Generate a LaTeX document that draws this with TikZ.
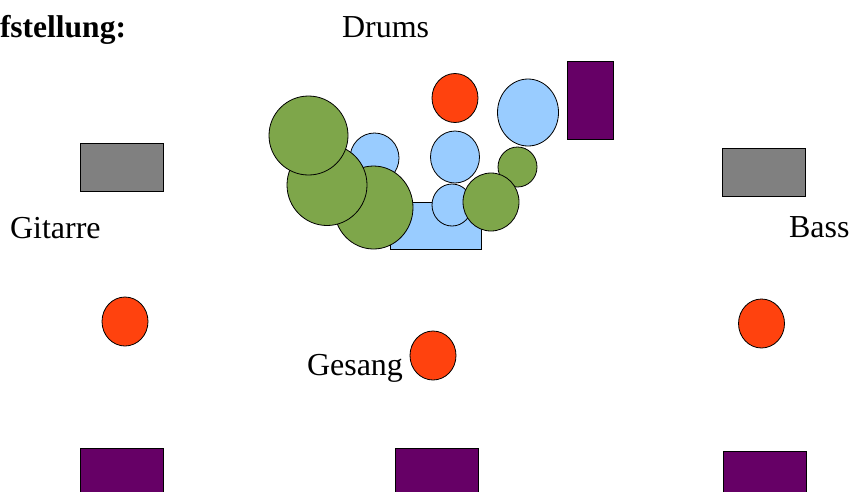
\documentclass[tikz,border=0pt]{standalone}
\usepackage{fontspec}
\setmainfont{Liberation Serif}
\usetikzlibrary{shapes.geometric}
\definecolor{drumblue}{HTML}{99CCFF}
\definecolor{cymbalgreen}{HTML}{7EA64A}
\definecolor{playerred}{HTML}{FF420E}
\definecolor{monitorpurple}{HTML}{660066}
\definecolor{ampgray}{HTML}{808080}

\begin{document}
\begin{tikzpicture}[x=1pt,y=-1pt,
    every node/.style={inner sep=0pt,outer sep=0pt},
    label/.style={font=\fontsize{32}{37}\selectfont,anchor=base west},
    part/.style 2 args={draw=black,line width=0.8pt,minimum width=#1pt,minimum height=#2pt},
    drum/.style={ellipse,fill=drumblue},
    cymbal/.style={ellipse,fill=cymbalgreen},
    player/.style={ellipse,fill=playerred,part={46}{49}},
    amp/.style={rectangle,fill=ampgray,part={83}{48}},
    monitor/.style={rectangle,fill=monitorpurple,part={83}{50}}]
    \useasboundingbox (0,0) rectangle (850,491);

    % texts
    \node[label,font=\fontsize{31.5}{36}\selectfont\bfseries] (title) at (0,37) {fstellung:};
    \node[label] (drums) at (342,37) {Drums};
    \node[label] (gitarre) at (10,238) {Gitarre};
    \node[label] (bass) at (789,237) {Bass};
    \node[label] (gesang) at (307,375) {Gesang};

    % monitors in front
    \foreach \x/\y/\n in {121.5/473/left,436.5/473/middle,764.5/476/right} {
      \node[monitor] (monitor \n) at (\x,\y) {};
    }

    % amps and players
    \node[amp] (amp gitarre) at (121.5,167) {};
    \node[amp] (amp bass) at (763.5,172) {};
    \node[player] (player gitarre) at (125,321.5) {};
    \node[player] (player bass) at (761.5,323.5) {};
    \node[player] (player gesang) at (433,355.5) {};

    % drum kit
    \node[rectangle,fill=drumblue,part={91}{47}] (bassdrum) at (435.5,225.5) {};
    \node[drum,part={49}{50}] (tom left) at (374.5,158) {};
    \node[drum,part={49}{52}] (tom middle) at (455,157) {};
    \node[drum,part={40}{42}] (snare) at (452,205) {};
    \node[drum,part={61}{67}] (floortom) at (528,112.5) {};
    \node[cymbal,part={79}{83}] (crash low) at (373.5,207.5) {};
    \node[cymbal,part={80}{81}] (crash mid) at (327,185) {};
    \node[cymbal,part={79}{79}] (crash top) at (308.5,135.5) {};
    \node[cymbal,part={39}{40}] (splash) at (517.5,167) {};
    \node[cymbal,part={56}{58}] (hihat) at (491,202) {};
    \node[player] (player drums) at (455,98) {};
    \node[rectangle,fill=monitorpurple,part={46}{78}] (monitor drums) at (590,100) {};
  \end{tikzpicture}
\end{document}
